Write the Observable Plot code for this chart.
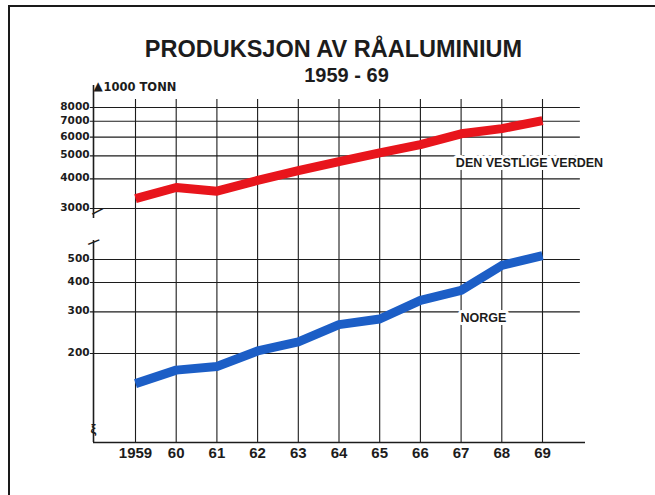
<!DOCTYPE html>
<html>
<head>
<meta charset="utf-8">
<script src="https://cdn.jsdelivr.net/npm/d3@7"></script>
<script src="https://cdn.jsdelivr.net/npm/@observablehq/plot@0.6"></script>
<style>
  html, body { margin: 0; padding: 0; background: #fff; }
  #wrap { position: relative; width: 655px; height: 495px; overflow: hidden; background: #fff; }
  #frame { position: absolute; left: 8px; top: 5px; width: 700px; height: 600px;
           border-top: 2.5px solid #1a1a1a; border-left: 2.5px solid #1a1a1a; }
  #wrap svg { position: absolute; left: 0; top: 0; background: transparent; overflow: visible; }
</style>
</head>
<body>
<div id="wrap"><div id="frame"></div></div>
<script>
// ---- data ----
const years = [1959, 1960, 1961, 1962, 1963, 1964, 1965, 1966, 1967, 1968, 1969];
const yearLabels = ["1959", "60", "61", "62", "63", "64", "65", "66", "67", "68", "69"];
const vestligeVerden = [3300, 3680, 3550, 3940, 4330, 4730, 5150, 5580, 6200, 6520, 7050];
const norge = [149, 170, 176, 205, 224, 265, 280, 336, 370, 472, 520];
const upperTicks = [3000, 4000, 5000, 6000, 7000, 8000];
const lowerTicks = [200, 300, 400, 500];
const seriesNames = ["DEN VESTLIGE VERDEN", "NORGE"];
const titleText = "PRODUKSJON AV RÅALUMINIUM";
const subtitleText = "1959 - 69";
const unitText = "1000 TONN";

// ---- tables ----
const westRows = years.map((y, i) => ({year: y, value: vestligeVerden[i]}));
const norgeRows = years.map((y, i) => ({year: y, value: norge[i]}));

// ---- styling ----
const FONT = "'Liberation Sans', Arial, sans-serif";
const TICKFONT = "'DejaVu Sans', sans-serif";
const INK = "#1c1c1c";
const RED = "#e8151c";
const BLUE = "#1c5ec6";
const X0 = 1957.968, X1 = 1970.0565;
const GX1 = 1957.89, GX2 = 1969.93;

const common = {
  width: 655,
  marginLeft: 93,
  marginRight: 70,
  style: {background: "transparent", overflow: "visible"}
};

const yTickLabels = (ticks) => Plot.text(ticks, {
  x: () => X0, y: d => d, text: d => String(d),
  textAnchor: "end", dx: -4, dy: -1,
  fontSize: 10.5, fontWeight: "bold", fontFamily: TICKFONT, fill: INK
});

// lower panel (Norge) + vertical grid + x axis
const lower = Plot.plot({
  ...common,
  height: 495,
  marginTop: 99,
  marginBottom: 53,
  x: {type: "linear", domain: [X0, X1], axis: null},
  y: {type: "log", domain: [83.9, 2384], axis: null},
  marks: [
    Plot.gridX(years, {stroke: INK, strokeOpacity: 1, strokeWidth: 1.1}),
    Plot.ruleY(lowerTicks, {x1: GX1, x2: GX2, stroke: INK, strokeWidth: 1.1}),
    Plot.ruleY([83.9], {stroke: INK, strokeWidth: 1.6}),
    Plot.ruleX([X0], {y1: 83.9, y2: 602, stroke: INK, strokeWidth: 1.6}),
    Plot.text(years, {x: d => d, y: () => 83.9, text: d => yearLabels[years.indexOf(d)],
      lineAnchor: "top", dy: 5,
      fontSize: 15, fontWeight: "bold", fontFamily: FONT, fill: INK}),
    yTickLabels(lowerTicks),
    Plot.line(norgeRows, {x: "year", y: "value", stroke: BLUE, strokeWidth: 9,
      strokeLinecap: "butt", strokeLinejoin: "round"}),
    Plot.text([seriesNames[1]], {x: () => 1967.55, y: () => 284, text: d => d,
      fontSize: 12.5, fontWeight: "bold", fontFamily: FONT, fill: INK,
      stroke: "white", strokeWidth: 6, paintOrder: "stroke"}),
    // axis break marks
    Plot.text(["—"], {x: () => X0, y: () => 602, text: d => d, rotate: -22,
      fontSize: 13, fontWeight: "bold", fill: INK, dy: 1}),
    Plot.text(["ξ"], {x: () => X0, y: () => 96.2, text: d => d,
      fontSize: 13, fontWeight: "bold", fontFamily: FONT, fill: INK})
  ]
});

// upper panel (Den vestlige verden) + titles
const upper = Plot.plot({
  ...common,
  height: 230,
  marginTop: 85,
  marginBottom: 12,
  x: {type: "linear", domain: [X0, X1], axis: null},
  y: {type: "log", domain: [2722, 9911], axis: null},
  marks: [
    Plot.ruleY(upperTicks, {x1: GX1, x2: GX2, stroke: INK, strokeWidth: 1.1}),
    Plot.ruleX([X0], {stroke: INK, strokeWidth: 1.6}),
    yTickLabels(upperTicks),
    Plot.line(westRows, {x: "year", y: "value", stroke: RED, strokeWidth: 9,
      strokeLinecap: "butt", strokeLinejoin: "round"}),
    Plot.text([seriesNames[0]], {x: () => 1968.68, y: () => 4676, text: d => d,
      fontSize: 12.5, fontWeight: "bold", fontFamily: FONT, fill: INK,
      stroke: "white", strokeWidth: 6, paintOrder: "stroke"}),
    // arrow + unit
    Plot.text(["▲"], {frameAnchor: "top-left", text: d => d, lineAnchor: "middle",
      fontSize: 12, fontFamily: TICKFONT, fill: INK, dy: 1}),
    Plot.text([unitText], {frameAnchor: "top-left", text: d => d, textAnchor: "start",
      lineAnchor: "middle", dx: 10, dy: 2,
      fontSize: 11.5, fontWeight: "bold", fontFamily: TICKFONT, fill: INK}),
    // axis break mark
    Plot.text(["—"], {frameAnchor: "bottom-left", text: d => d, rotate: -28,
      fontSize: 13, fontWeight: "bold", fill: INK, dy: -1}),
    // titles
    Plot.text([titleText], {frameAnchor: "top", text: d => d, lineAnchor: "bottom",
      dx: -6, dy: -29, fontSize: 23.5, fontWeight: "bold", fontFamily: FONT, fill: INK}),
    Plot.text([subtitleText], {frameAnchor: "top", text: d => d, lineAnchor: "bottom",
      dx: 7, dy: -4, fontSize: 20, fontWeight: "bold", fontFamily: FONT, fill: INK})
  ]
});

const wrap = document.getElementById("wrap");
wrap.appendChild(lower);
wrap.appendChild(upper);
</script>
</body>
</html>
